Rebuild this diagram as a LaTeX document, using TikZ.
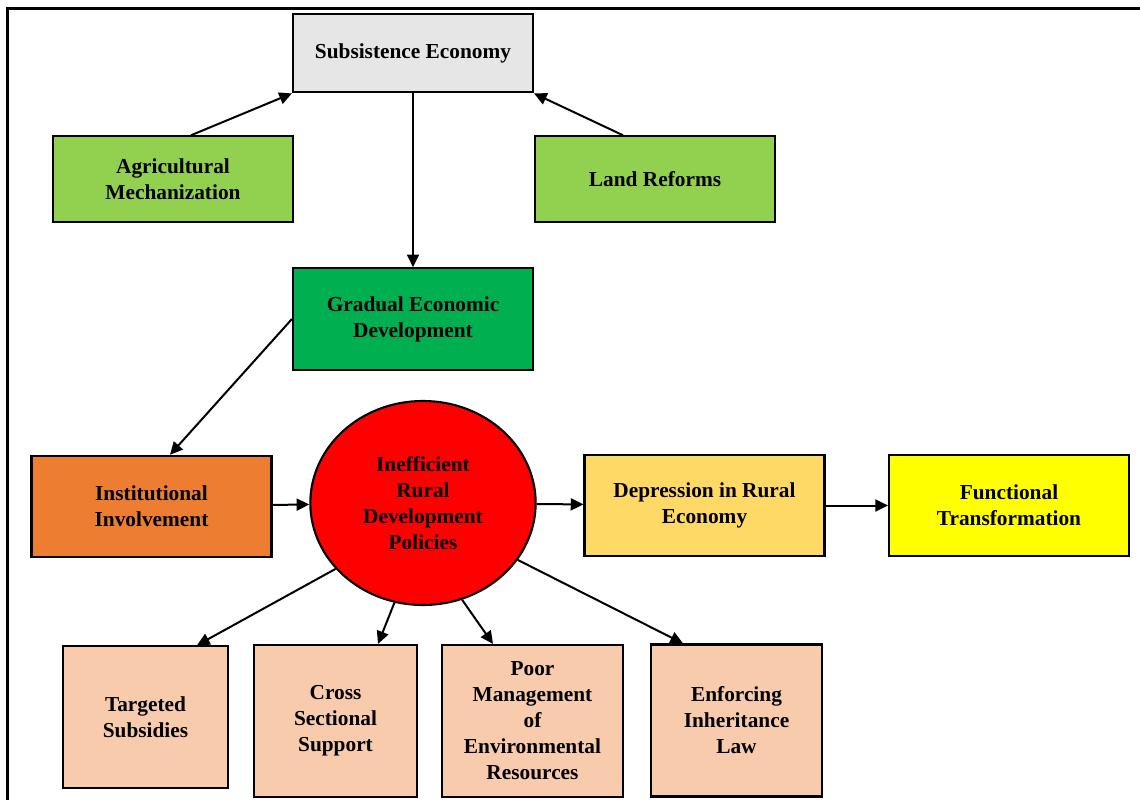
\documentclass[tikz,border=0pt]{standalone}
\usepackage{fontspec}
\setmainfont{Liberation Serif}
\usetikzlibrary{arrows.meta,shapes.geometric,calc}

\definecolor{subsgray}{HTML}{E6E6E6}
\definecolor{lightgreen}{HTML}{92D050}
\definecolor{darkgreen}{HTML}{00B050}
\definecolor{instorange}{HTML}{ED7D31}
\definecolor{deprgold}{HTML}{FFD966}
\definecolor{peach}{HTML}{F8CBAD}
\definecolor{brightyellow}{HTML}{FFFF00}

\tikzset{
  box/.style={draw=black, line width=1.6pt, align=center, inner sep=2pt,
    font=\fontsize{16}{19.5}\selectfont\bfseries},
  wide/.style={box, minimum width=180pt, minimum height=64pt},
  low/.style={box, minimum height=114pt},
  arr/.style={-{Triangle[length=9.5pt,width=9pt]}, line width=1.5pt},
}

\begin{document}
\begin{tikzpicture}[x=0.75pt,y=-0.75pt]
  \useasboundingbox (0,0) rectangle (1140,800);
  \draw[line width=2.3pt] (7.5,800) -- (7.5,8.5) -- (1140,8.5);

  % top part
  \node[wide, fill=subsgray, minimum height=59pt] (subsist) at (413,53) {Subsistence Economy};
  \node[wide, fill=lightgreen] (agri) at (173,179) {Agricultural\\Mechanization};
  \node[wide, fill=lightgreen] (land) at (655,179) {Land Reforms};
  \node[wide, fill=darkgreen, minimum height=76pt] (gradual) at (413,319) {Gradual Economic\\Development};

  % middle row
  \node[wide, fill=instorange, minimum height=76pt] (inst) at (151.5,506.5) {Institutional\\Involvement};
  \node[box, ellipse, fill=red, inner sep=0pt, minimum width=169pt, minimum height=153pt] (ineff) at (423,503)
    {Inefficient\\Rural\\Development\\Policies};
  \node[wide, fill=deprgold, minimum height=76pt] (depr) at (704.5,505.5) {Depression in Rural\\Economy};
  \node[wide, fill=brightyellow, minimum height=76pt] (func) at (1009,505.5) {Functional\\Transformation};

  % bottom row
  \node[box, fill=peach, minimum width=124pt, minimum height=106pt] (tgt) at (145.5,717) {Targeted\\Subsidies};
  \node[low, fill=peach, minimum width=122pt] (cross) at (335.5,721) {Cross\\Sectional\\Support};
  \node[low, fill=peach, minimum width=136pt] (poor) at (532.5,721) {Poor\\Management\\of\\Environmental\\Resources};
  \node[low, fill=peach, minimum width=128pt] (enf) at (736.5,720.5) {Enforcing\\Inheritance\\Law};

  % connectors
  \draw[arr] ($(agri.north)+(18,0)$) -- (subsist.south west);
  \draw[arr] ($(land.north)+(-32,0)$) -- (subsist.south east);
  \draw[arr] (subsist.south) -- (gradual.north);
  \draw[arr] (gradual.west) -- ($(inst.north)+(18.5,0)$);
  \draw[arr] (inst) -- (ineff);
  \draw[arr] (ineff) -- (depr);
  \draw[arr] (depr) -- (func);
  \draw[arr] (ineff.217) -- ($(tgt.north)+(51.5,0)$);
  \draw[arr] (ineff.254) -- ($(cross.north)+(42.5,0)$);
  \draw[arr] (ineff.292) -- ($(poor.north)+(-39.5,0)$);
  \draw[arr] (ineff.329.5) -- ($(enf.north)+(-53.5,0)$);
\end{tikzpicture}
\end{document}
